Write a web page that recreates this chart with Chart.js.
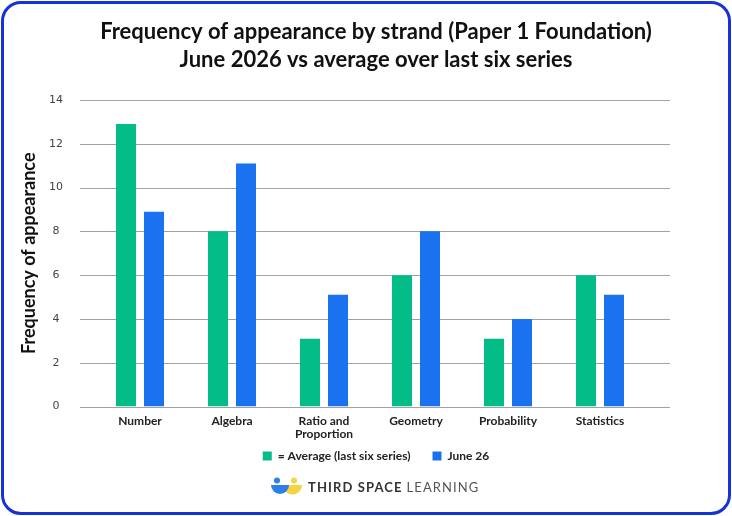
<!DOCTYPE html>
<html>
<head>
<meta charset="utf-8">
<script src="https://cdn.jsdelivr.net/npm/chart.js@4.4.1/dist/chart.umd.min.js"></script>
<style>
  html, body { margin: 0; padding: 0; background: #fff; }
  .card { position: relative; width: 732px; height: 516px; overflow: hidden; }
  .card canvas { position: absolute; left: 0; top: 0; }
  .frame { position: absolute; left: 1px; top: 1px; width: 730px; height: 514px; box-sizing: border-box;
           border: 3px solid #1733d6; border-radius: 20px; pointer-events: none; }
  .logo { position: absolute; left: 271px; top: 477px; height: 19px; display: flex; align-items: center;
          font-family: Lato, sans-serif; font-size: 13px; letter-spacing: 1.1px; color: #333; white-space: nowrap; }
  .logo svg { margin-right: 6px; }
  .logo b { font-weight: 700; }
  .logo span { font-weight: 400; color: #555; margin-left: 4px; }
</style>
</head>
<body>
<div class="card">
  <canvas id="myChart" width="732" height="516"></canvas>
  <div class="logo">
    <svg width="31" height="19" viewBox="0 0 31 19">
      <path d="M12 8 A9.5 9.5 0 0 0 31 8 Z" fill="#f4d443"/>
      <circle cx="23" cy="3.5" r="3" fill="#f4d443"/>
      <path d="M0 8 A9 9 0 0 0 18 8 Z" fill="#2f7fe8"/>
      <circle cx="6" cy="3.5" r="3" fill="#2f7fe8"/>
    </svg>
    <b>THIRD SPACE</b><span>LEARNING</span>
  </div>
  <div class="frame"></div>
</div>
<script>
const categories = ['Number', 'Algebra', ['Ratio and', 'Proportion'], 'Geometry', 'Probability', 'Statistics'];
const averageValues = [12.9, 8, 3.1, 6, 3.1, 6];
const june26Values = [8.9, 11.1, 5.1, 8, 4, 5.1];
const seriesNames = ['= Average (last six series)', 'June 26'];
const yMax = 14;
const yStep = 2;

// horizontal lines drawn a bit wider than the plot, like the original
const gridLines = {
  id: 'gridLines',
  beforeDatasetsDraw(chart) {
    const y = chart.scales.y;
    const area = chart.chartArea;
    const c = chart.ctx;
    c.save();
    c.strokeStyle = '#a2a2a2';
    c.lineWidth = 1;
    y.ticks.forEach(function (t) {
      const py = Math.round(y.getPixelForValue(t.value)) + 0.5;
      c.beginPath();
      c.moveTo(area.left - 14, py);
      c.lineTo(area.right + 24, py);
      c.stroke();
    });
    c.restore();
  }
};

// legend sits closer to the axis labels than its item padding would put it
const liftLegend = {
  id: 'liftLegend',
  afterLayout(chart) {
    chart.legend.top -= 14;
    chart.legend.bottom -= 14;
  }
};

const ctx = document.getElementById('myChart');

new Chart(ctx, {
  type: 'bar',
  data: {
    labels: categories,
    datasets: [{
      label: seriesNames[0],
      data: averageValues,
      backgroundColor: '#02bd88',
      borderWidth: 0,
      categoryPercentage: 56 / 92,
      barPercentage: 20 / 28
    }, {
      label: seriesNames[1],
      data: june26Values,
      backgroundColor: '#1b72f1',
      borderWidth: 0,
      categoryPercentage: 56 / 92,
      barPercentage: 20 / 28
    }]
  },
  plugins: [gridLines, liftLegend],
  options: {
    responsive: false,
    animation: false,
    layout: {
      padding: { left: 20, right: 0, top: 0, bottom: 30 }
    },
    plugins: {
      title: {
        display: true,
        text: ['Frequency of appearance by strand (Paper 1 Foundation)', 'June 2026 vs average over last six series'],
        color: '#111',
        font: { family: 'Lato', size: 22, weight: 'bold', lineHeight: 28 / 22 },
        padding: { top: 18, bottom: 26 }
      },
      legend: {
        position: 'bottom',
        labels: {
          boxWidth: 9,
          boxHeight: 9,
          padding: 22,
          color: '#222',
          font: { family: 'Lato', size: 12, weight: 'bold' }
        }
      },
      tooltip: { enabled: false }
    },
    scales: {
      x: {
        grid: { display: false, drawTicks: false },
        border: { display: false },
        ticks: {
          padding: 8,
          maxRotation: 0,
          color: '#222',
          font: { family: 'Lato', size: 12, weight: 'bold', lineHeight: 13 / 12 }
        },
        afterFit: function (scale) { scale.height = 35.5; }
      },
      y: {
        min: 0,
        max: yMax,
        grid: { display: false, drawTicks: false },
        border: { display: false },
        ticks: {
          stepSize: yStep,
          padding: 31,
          crossAlign: 'center',
          color: '#444',
          font: { family: 'DejaVu Sans', size: 11 }
        },
        title: {
          display: true,
          text: 'Frequency of appearance',
          color: '#111',
          font: { family: 'Lato', size: 18, weight: 'bold', lineHeight: 1 },
          padding: { top: 0, bottom: 0 }
        },
        afterFit: function (scale) { scale.width = 74; }
      },
      yRight: {
        position: 'right',
        grid: { display: false, drawTicks: false },
        border: { display: false },
        ticks: { display: false },
        afterFit: function (scale) { scale.width = 86; }
      }
    }
  }
});
</script>
</body>
</html>
